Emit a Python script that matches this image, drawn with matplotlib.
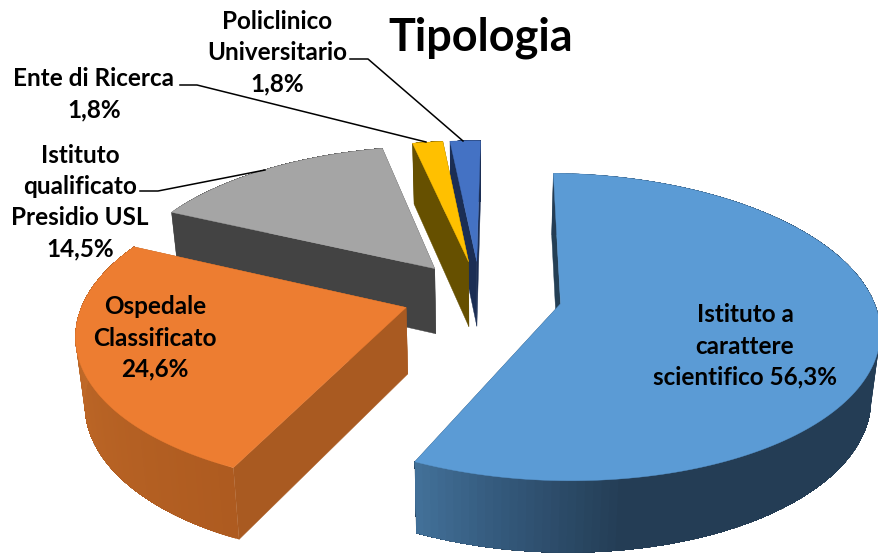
"""Tipologia: torta 3D esplosa, proiettata a mano (matplotlib non ha un pie prospettico)."""
import numpy as np
import matplotlib
matplotlib.use("Agg")
import matplotlib.pyplot as plt
from matplotlib.colors import to_rgb
from matplotlib.patches import Polygon

categorie = ["Istituto a\ncarattere\nscientifico", "Ospedale\nClassificato",
             "Istituto\nqualificato\nPresidio USL", "Ente di Ricerca",
             "Policlinico\nUniversitario"]
valori = [56.3, 24.6, 14.5, 1.8, 1.8]
esplosione = [0.26, 0.245, 0.235, 0.235, 0.235]
col_top = ["#5B9BD5", "#ED7D31", "#A5A5A5", "#FFC000", "#4472C4"]
col_wall = ["#243F55", "#A95A21", "#434343", "#665000", "#1B2E54"]

# geometria della proiezione (px)
CX, CY, RX, RY, P, Q = 480, 295, 316, 148, 0.15, 0.01
DEPTH = 66
A0 = 0.7


def proj(X, Y, low=False):
    f = 1 / (1 + P * Y + Q * X)
    x = CX + RX * X * f
    y = CY - RY * Y * f
    if low:
        x = CX + (x - CX) * 0.977
        y = y + DEPTH * np.sqrt(f)
    return np.column_stack([x, y])


def ramp(t, stops):
    ts, cs = zip(*stops)
    rgb = np.array([to_rgb(c) for c in cs])
    return np.array([np.interp(t, ts, rgb[:, k]) for k in range(3)])


fig = plt.figure(figsize=(8.79, 5.53), dpi=100)
ax = fig.add_axes([0, 0, 1, 1])
ax.set_xlim(0, 879); ax.set_ylim(553, 0); ax.axis("off")

shares = np.array(valori) / sum(valori) * 360
start = A0 + np.concatenate([[0], np.cumsum(shares)[:-1]])
# gradiente della parete curva (angolo gradi -> colore)
grad = {0: [(140, "#243D55"), (172, "#243D55"), (190, "#33587A"), (206, "#44739C")],
        1: [(206, "#AE5B20"), (295, "#C8702C")]}

order = [4, 3, 2, 1, 0]
for i in order:
    a0, a1 = start[i], start[i] + shares[i]
    mid = np.radians((a0 + a1) / 2)
    ox, oy = esplosione[i] * np.sin(mid), esplosione[i] * np.cos(mid)
    aa = np.radians(np.linspace(a0, a1, 160))
    X, Y = ox + np.sin(aa), oy + np.cos(aa)
    top = proj(X, Y)
    low = proj(X, Y, low=True)
    apex, apex_low = proj(ox, oy), proj(ox, oy, low=True)
    # pareti radiali
    for j, z in [(0, 1), (-1, 2)]:
        ax.add_patch(Polygon(np.vstack([apex, top[[j]], low[[j]], apex_low]), closed=True,
                             fc=col_wall[i], ec=col_wall[i], lw=0.3, zorder=i * -10 + z))
    # parete curva: ogni striscia arriva fino alla fine, cosi' non restano righe tra i quadrilateri
    for k in range(len(aa) - 1):
        if i in grad:
            c = ramp(np.degrees(aa[k]), grad[i])
        else:
            c = col_wall[i]
        ax.add_patch(Polygon(np.vstack([top[k:], low[k:][::-1]]), closed=True,
                             fc=c, ec="none", lw=0, zorder=i * -10 + 3))
    ax.add_patch(Polygon(np.vstack([apex, top]), closed=True, fc=col_top[i], ec=col_top[i],
                         lw=0.3, zorder=i * -10 + 4))

# linee guida
for xs, ys in [([350, 368, 463], [59, 59, 141]), ([180, 197, 426], [85, 85, 142]),
               ([140, 158, 265], [191, 191, 170])]:
    ax.plot(xs, ys, color="black", lw=1.1, zorder=5)

fam = "Lato"
kw = dict(family=fam, weight="bold", fontsize=17.5, color="black", ha="center", va="center",
          linespacing=1.43, zorder=6)
ax.text(481, 38, "Tipologia", family=fam, weight="bold", fontsize=32.4, ha="center", va="center")
ax.text(745, 346, f"{categorie[0]} 56,3%", **kw)
ax.text(155, 338, f"{categorie[1]}\n24,6%", **kw)
ax.text(80, 202, f"{categorie[2]}\n14,5%", **kw)
ax.text(94, 94, f"{categorie[3]}\n1,8%", **kw)
ax.text(277, 53, f"{categorie[4]}\n1,8%", **kw)

fig.savefig("out.png", dpi=100)
